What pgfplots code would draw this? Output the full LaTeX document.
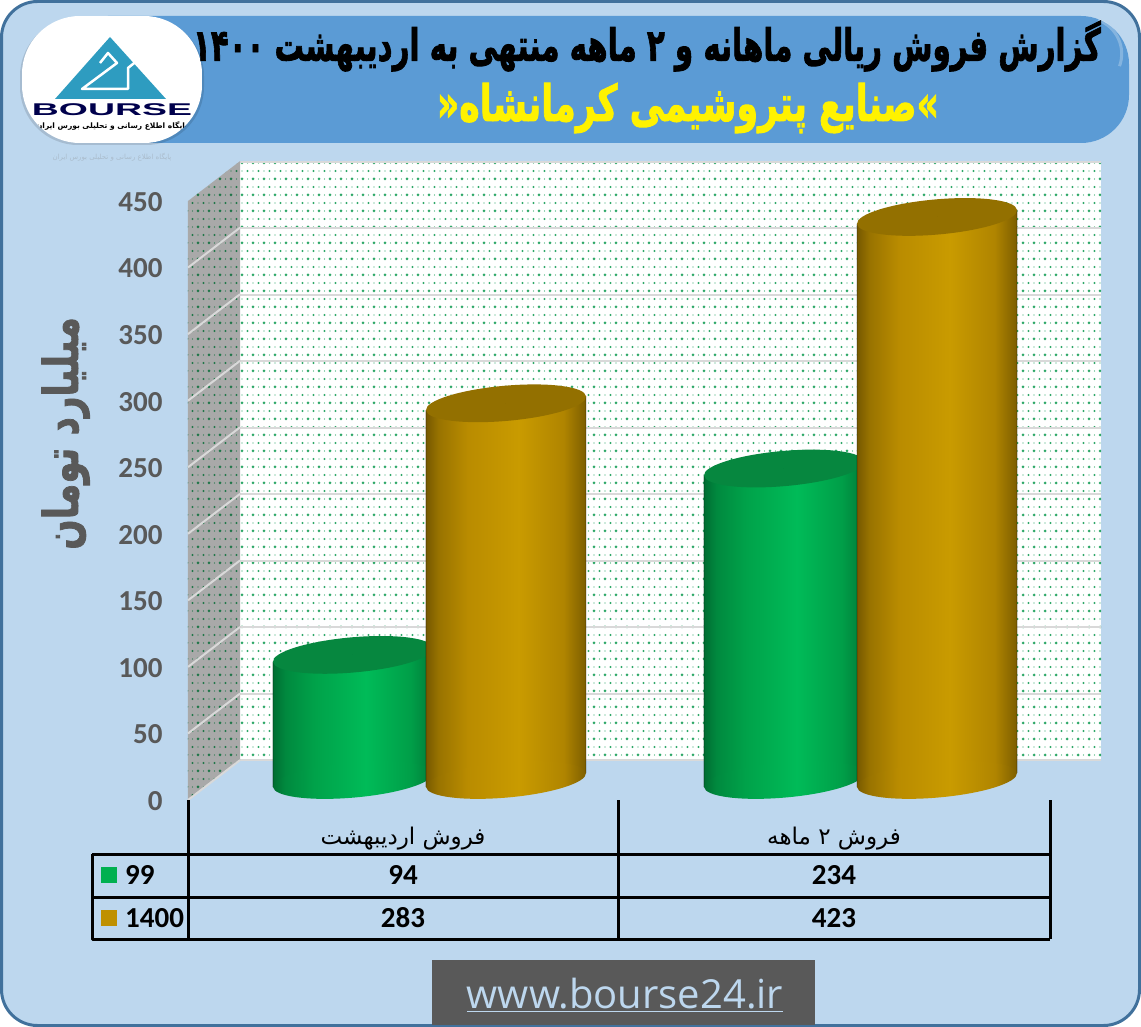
\documentclass[border=0pt]{standalone}
\usepackage{pgfplots}
\usepackage{pgfplotstable}
\usepackage{fontspec}
\pgfplotsset{compat=1.18}
\usetikzlibrary{patterns}
\TeXXeTstate=1
\newfontfamily\arabicfont[Script=Arabic]{DejaVu Sans}
\newfontfamily\arabicheavy[Script=Arabic,BoldFeatures={FakeBold=2}]{DejaVu Sans}
\newfontfamily\calibri{Carlito}
\newfontfamily\liber{Liberation Sans}
\newfontfamily\webfont{Open Sans}

\definecolor{pagebg}{HTML}{BDD7EE}
\definecolor{edge}{HTML}{41719C}
\definecolor{banner}{HTML}{5B9BD5}
\definecolor{tickgray}{HTML}{595959}
\definecolor{gridgray}{HTML}{D9D9D9}
\definecolor{sidewall}{HTML}{A9A9A9}
\definecolor{dotgreen}{HTML}{2FA868}
\definecolor{logoblue}{HTML}{2E9CC0}
\definecolor{green99}{HTML}{00B050}
\definecolor{greenmid}{HTML}{00BB58}
\definecolor{gold00}{HTML}{BF9000}
\definecolor{goldmid}{HTML}{C99B00}
\definecolor{topgreen}{HTML}{06873F}
\definecolor{topgold}{HTML}{937000}

% stops sit between 25bp and 75bp, the part tikz stretches over the path
\pgfdeclarehorizontalshading{cylgreen}{100bp}{
  color(0bp)=(green99!62!black); color(25bp)=(green99!62!black);
  color(29bp)=(green99!78!black); color(38bp)=(green99!92!black);
  color(54bp)=(greenmid); color(68bp)=(green99!90!black);
  color(75bp)=(green99!70!black); color(100bp)=(green99!70!black)}
\pgfdeclarehorizontalshading{cylgold}{100bp}{
  color(0bp)=(gold00!62!black); color(25bp)=(gold00!62!black);
  color(29bp)=(gold00!80!black); color(38bp)=(gold00!97!black);
  color(54bp)=(goldmid); color(68bp)=(gold00!92!black);
  color(75bp)=(gold00!65!black); color(100bp)=(gold00!65!black)}

\pgfdeclarepatternformonly{walldots}{\pgfqpoint{-2pt}{-2pt}}{\pgfqpoint{10pt}{14pt}}{\pgfqpoint{11pt}{16pt}}{
  \pgfpathcircle{\pgfqpoint{0pt}{0pt}}{1.5pt}
  \pgfpathcircle{\pgfqpoint{5.5pt}{8pt}}{1.2pt}
  \pgfpathcircle{\pgfqpoint{5.5pt}{0pt}}{0.7pt}
  \pgfpathcircle{\pgfqpoint{0pt}{8pt}}{0.7pt}
  \pgfusepath{fill}}

% cylinder from the plotted point (centre of its top) down to the axis base
\newcommand{\cyl}[2]{%
  \pgfmathsetmacro\hh{\rawv*1.331}%
  \shade[shading=#1] (-80pt,-7pt-\hh pt) -- (-80pt,-7pt) -- (80pt,7pt) -- (80pt,7pt-\hh pt) -- cycle;
  \begin{pgfscope}
    \pgfpathellipse{\pgfpoint{0pt}{-\hh pt}}{\pgfpoint{80pt}{7pt}}{\pgfpoint{-1.53pt}{17.53pt}}
    \pgfshadepath{#1}{0}
    \pgfusepath{discard}
  \end{pgfscope}
  \begin{pgfscope}
    \pgfsetfillcolor{#2}
    \pgfpathellipse{\pgfpoint{0pt}{0pt}}{\pgfpoint{80pt}{7pt}}{\pgfpoint{-1.53pt}{17.53pt}}
    \pgfusepath{fill}
  \end{pgfscope}
}

\pgfplotstableread{
cat v
0 94
1 234
}\salesNinetyNine
\pgfplotstableread{
cat v
0 283
1 423
}\salesFourteen

\begin{document}
\begin{tikzpicture}[x=1pt,y=-1pt]
\path[use as bounding box] (0,0) rectangle (1141,1027);
\coordinate (wall) at (240,760);
\coordinate (front) at (188,800);
\coordinate (base) at (188,780);

% page and banner
\fill[pagebg,draw=edge,line width=3pt,rounded corners=36pt] (1.5,1.5) rectangle (1139.5,1025.5);
\fill[banner,rounded corners=48pt] (60,16) rectangle (1129,143);
\draw[white,opacity=.25,line width=3pt] (1098,20) arc[start angle=70,end angle=-20,radius=36pt];

% logo
\fill[black,opacity=.12,rounded corners=58pt] (20,18) rectangle (204,145);
\begin{scope}
  \path[clip,rounded corners=58pt] (22,16) rectangle (202,143);
  \fill[white] (22,16) rectangle (202,143);
  \fill[logoblue] (110,37) -- (166,99) -- (55,99) -- cycle;
  \draw[white,line width=2.5pt,line join=round] (100,63) -- (108,53) -- (117,63) -- (82,89) -- (128,89) -- (128,68) -- (138,60);
  \node[text=blue!30!black,inner sep=0pt,xscale=2.2,transform shape] at (112,109.5)
    {\liber\bfseries\fontsize{17}{18}\selectfont BOURSE};
  \node[text=black,inner sep=0pt] at (112,126)
    {\arabicfont\bfseries\fontsize{7.5}{8}\selectfont\beginR پایگاه اطلاع رسانی و تحلیلی بورس ایران\endR};
\end{scope}
\node[text=gray,opacity=.3,inner sep=0pt] at (112,157)
  {\arabicfont\fontsize{7}{8}\selectfont\beginR پایگاه اطلاع رسانی و تحلیلی بورس ایران\endR};

% titles
\node[inner sep=0pt,text=black,xscale=.665,transform shape] at (647,46)
  {\arabicheavy\bfseries\fontsize{44}{50}\selectfont\beginR گزارش فروش ریالی ماهانه و ۲ ماهه منتهی به اردیبهشت ۱۴۰۰\endR};
\node[inner sep=0pt,text=yellow,xscale=.695,transform shape] at (688,108)
  {\arabicheavy\bfseries\fontsize{50}{56}\selectfont\beginR »صنایع پتروشیمی کرمانشاه«\endR};

% back wall
\begin{axis}[
    at={(wall)},anchor=south west,
    scale only axis,width=861pt,height=598pt,
    xmin=0,xmax=1,ymin=0,ymax=450,
    xtick=\empty,ytick={0,50,...,450},yticklabels={},
    ymajorgrids,
    grid style={gridgray,line width=2pt},
    major tick length=0pt,
    axis line style={draw=none},
    axis background/.style={preaction={fill=white},pattern=walldots,pattern color=dotgreen},
  ]
\end{axis}

% side wall, value axis and categories
\begin{axis}[
    at={(front)},anchor=south west,
    scale only axis,width=862pt,height=599pt,
    clip=false,
    xmin=-0.4988,xmax=1.5012,ymin=0,ymax=450,
    xtick={0,1},
    xticklabels={{\arabicfont\beginR فروش اردیبهشت\endR},{\arabicfont\beginR فروش ۲ ماهه\endR}},
    xticklabel style={font=\fontsize{23}{26}\selectfont,text=black,yshift=-23pt},
    ytick={0,50,...,450},
    yticklabel style={font=\calibri\bfseries\fontsize{29}{31}\selectfont,text=tickgray,
      /pgf/number format/assume math mode=true,xshift=-22pt,yshift=-1pt},
    major tick length=0pt,
    axis line style={draw=none},
    ylabel={\arabicheavy\bfseries\beginR میلیارد تومان\endR},
    ylabel style={font=\fontsize{48}{54}\selectfont,text=tickgray,rotate=0,
      at={(axis description cs:-0.142,0.612)},anchor=center,xscale=.745},
  ]
  \addplot[draw=none,fill=sidewall] coordinates {(-0.4988,0) (-0.378,30) (-0.378,480) (-0.4988,450) (-0.4988,0)};
  \addplot[draw=none,pattern=walldots,pattern color=dotgreen!70!black] coordinates {(-0.4988,0) (-0.378,30) (-0.378,480) (-0.4988,450) (-0.4988,0)};
  \addplot[gridgray,line width=2pt,unbounded coords=jump] coordinates {
    (-0.4988,0) (-0.378,30) (-0.4988,nan)
    (-0.4988,50) (-0.378,80) (-0.4988,nan)
    (-0.4988,100) (-0.378,130) (-0.4988,nan)
    (-0.4988,150) (-0.378,180) (-0.4988,nan)
    (-0.4988,200) (-0.378,230) (-0.4988,nan)
    (-0.4988,250) (-0.378,280) (-0.4988,nan)
    (-0.4988,300) (-0.378,330) (-0.4988,nan)
    (-0.4988,350) (-0.378,380) (-0.4988,nan)
    (-0.4988,400) (-0.378,430) (-0.4988,nan)
  };
\end{axis}

% cylinders, base 20px above the front edge
\begin{axis}[
    at={(base)},anchor=south west,
    scale only axis,width=862pt,height=599pt,
    clip=false,
    xmin=-0.4988,xmax=1.5012,ymin=0,ymax=450,
    hide axis,
  ]
  \addplot[scatter,only marks,mark=*,mark size=0pt,
    visualization depends on={\thisrow{v} \as \rawv},
    scatter/@pre marker code/.code={\cyl{cylgreen}{topgreen}},
    scatter/@post marker code/.code={}]
    table[x expr=\thisrow{cat}-0.116,y=v] {\salesNinetyNine};
  \addplot[scatter,only marks,mark=*,mark size=0pt,
    visualization depends on={\thisrow{v} \as \rawv},
    scatter/@pre marker code/.code={\cyl{cylgold}{topgold}},
    scatter/@post marker code/.code={}]
    table[x expr=\thisrow{cat}+0.239,y=v] {\salesFourteen};
\end{axis}

% data table
\draw[black,line width=3pt,line join=round]
  (188,800) -- (188,939) (618,800) -- (618,939) (1050,800) -- (1050,939)
  (92,854) -- (1050,854) (92,897) -- (1050,897) (92,854) -- (92,939) -- (1050,939);
\fill[green99] (101,867) rectangle (117,883);
\fill[gold00] (101,910) rectangle (117,926);
\begin{scope}[every node/.style={inner sep=0pt,text=black,font=\calibri\bfseries\fontsize{29}{31}\selectfont}]
  \node[anchor=west] at (125,875) {99};
  \node[anchor=west] at (125,918) {1400};
  \node at (403,875) {94};
  \node at (834,875) {234};
  \node at (403,918) {283};
  \node at (834,918) {423};
\end{scope}

% footer
\fill[tickgray] (432,960) rectangle (815,1025);
\node[inner sep=0pt,text=pagebg] at (625,995)
  {\webfont\fontsize{40}{44}\selectfont\underline{www.bourse24.ir}};
\end{tikzpicture}
\end{document}
